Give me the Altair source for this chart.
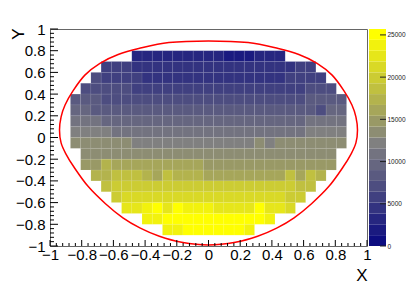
import altair as alt
import pandas as pd

# ---------------- data ----------------
N_XBINS = 31
X_MIN, X_MAX = -1.0, 1.0
Y_BIN = 0.1
ZMAX = 25700

row_y_low = [0.7, 0.6, 0.5, 0.4, 0.3, 0.2, 0.1, 0.0, -0.1, -0.2,
             -0.3, -0.4, -0.5, -0.6, -0.7, -0.8, -0.9]
row_first_bin = [8, 5, 4, 3, 2, 2, 2, 2, 2, 3, 3, 4, 5, 6, 7, 9, 11]
row_values = [
    [3310, 3150, 3420, 3260, 3090, 3380, 3200, 3290, 3140, 2410, 2280, 2530, 3350, 3180, 3060],
    [5870, 5690, 5950, 4420, 4610, 4380, 4550, 4700, 4330, 4490, 4620, 4410, 4560, 4350, 4680,
     4470, 4590, 4400, 4530, 5760, 5900],
    [7120, 5830, 5700, 5960, 5810, 4540, 4390, 4660, 4480, 4600, 4350, 4510, 4700, 4420, 4580,
     4460, 4630, 4370, 4550, 5740, 5920, 5860, 5690],
    [7150, 6980, 7200, 7030, 6940, 5820, 5950, 5710, 5880, 5760, 6010, 5690, 5840, 5930, 5780,
     5870, 5720, 5990, 5800, 5740, 5910, 5850, 7090, 7180, 7020],
    [8420, 8290, 8510, 7010, 7150, 6950, 7230, 7080, 6990, 7170, 7040, 7260, 6970, 7110, 7200,
     7060, 6930, 7140, 7090, 7220, 7000, 7130, 7050, 8380, 8460, 8310, 8550],
    [9700, 9580, 8300, 8450, 8380, 8520, 8270, 8410, 8360, 8490, 8330, 8560, 8400, 8290, 8470,
     8350, 8430, 8510, 8280, 8390, 8460, 8320, 8540, 8370, 7120, 9620, 9750],
    [10950, 10880, 11020, 9590, 9720, 9650, 9540, 9780, 9610, 9690, 9560, 9740, 9630, 9700, 9580,
     9660, 9750, 9600, 9680, 9550, 9710, 9640, 9770, 10900, 11010, 10860, 10970],
    [12250, 12130, 12310, 12180, 10960, 10850, 11030, 10920, 10990, 10870, 11060, 10910, 10840,
     11000, 10950, 10880, 11040, 10930, 10860, 11010, 10970, 10890, 11050, 12200, 12290, 12150, 12260],
    [13530, 13420, 13600, 13480, 13390, 13560, 12240, 12150, 12300, 12190, 12260, 12120, 12280,
     12210, 12170, 12330, 12230, 12140, 13510, 12270, 13450, 13580, 13410, 13530, 13620, 13470, 13550],
    [13520, 13610, 13440, 13580, 13700, 13490, 13630, 13560, 13420, 13680, 13510, 13600, 13470,
     13650, 13540, 13590, 13430, 13670, 13500, 13620, 13460, 13570, 13640, 13480, 13550],
    [14800, 14690, 17400, 16100, 15990, 16180, 16050, 16120, 15960, 16210, 16030, 16140, 14820,
     14710, 14900, 14760, 14850, 14680, 14930, 14790, 14740, 14880, 14700, 14830, 14770],
    [17400, 17290, 18700, 18580, 18650, 17380, 16090, 18610, 17320, 17450, 17260, 16040, 16150,
     15980, 16110, 16070, 16190, 16010, 16130, 18680, 16080, 18590, 17360],
    [18640, 19950, 19870, 20010, 19900, 19820, 20060, 19930, 19980, 19850, 20030, 19890, 19960,
     19800, 20080, 19920, 19990, 19860, 20020, 18700, 18570],
    [19940, 21250, 21130, 21300, 21180, 21220, 21090, 21340, 21160, 21270, 21110, 21230, 21190,
     21310, 21140, 21260, 21200, 19880, 20010],
    [22500, 22410, 23800, 25110, 22530, 25040, 23750, 23820, 23700, 22460, 22550, 22390, 22510,
     25080, 22440, 22520, 21230],
    [23790, 23710, 25120, 25300, 25010, 25450, 25180, 25260, 25070, 25390, 25150, 25220, 23760],
    [23810, 23740, 25350, 25620, 25480, 25690, 25410, 25280, 23770],
]

curve_x = [0.00, 0.25, 0.44, 0.57, 0.685, 0.78, 0.855, 0.905, 0.93, 0.94, 0.93, 0.90, 0.85,
           0.76, 0.65, 0.54, 0.43, 0.31, 0.17, 0.00, -0.17, -0.31, -0.43, -0.54, -0.65, -0.76,
           -0.85, -0.90, -0.93, -0.94, -0.93, -0.905, -0.855, -0.78, -0.685, -0.57, -0.44, -0.25]
curve_y = [0.89, 0.875, 0.82, 0.765, 0.684, 0.575, 0.43, 0.30, 0.19, 0.07, -0.05, -0.15, -0.27,
           -0.45, -0.61, -0.74, -0.835, -0.91, -0.965, -0.99, -0.965, -0.91, -0.835, -0.74, -0.61,
           -0.45, -0.27, -0.15, -0.05, 0.07, 0.19, 0.30, 0.43, 0.575, 0.684, 0.765, 0.82, 0.875]

axis_ticks = [-1, -0.8, -0.6, -0.4, -0.2, 0, 0.2, 0.4, 0.6, 0.8, 1]
cbar_ticks = [0, 5000, 10000, 15000, 20000, 25000]

# ---------------- build tables ----------------
bw = (X_MAX - X_MIN) / N_XBINS
cells = []
for ylo, first, vals in zip(row_y_low, row_first_bin, row_values):
    for j, v in enumerate(vals):
        i = first + j
        cells.append({"x0": X_MIN + i * bw, "x1": X_MIN + (i + 1) * bw,
                      "y0": ylo, "y1": ylo + Y_BIN, "value": v})
df_cells = pd.DataFrame(cells)
df_curve = pd.DataFrame({"cx": curve_x, "cy": curve_y, "i": range(len(curve_x))})

minor = [round(-1 + 0.04 * k, 2) for k in range(51)]
minor = [m for m in minor if min(abs(m - t) for t in axis_ticks) > 1e-6]
df_major = pd.DataFrame({"v": axis_ticks})
df_minor = pd.DataFrame({"v": minor})


# palette (ROOT kBlueYellow), 20 contour levels
def pal(f):
    stops = [(0.0, (0, 0, 128)), (0.5, (128, 128, 128)), (1.0, (255, 255, 0))]
    for (f0, c0), (f1, c1) in zip(stops[:-1], stops[1:]):
        if f <= f1 + 1e-9:
            t = (f - f0) / (f1 - f0)
            return "#%02x%02x%02x" % tuple(int(round(a + (b - a) * t)) for a, b in zip(c0, c1))
    return "#ffff00"


NLEV = 20
colors = [pal((k + 1) / NLEV) for k in range(NLEV)]
band = ZMAX / NLEV
df_cbar = pd.DataFrame({"lo": [k * band for k in range(NLEV)],
                        "hi": [(k + 1) * band for k in range(NLEV)],
                        "mid": [(k + 0.5) * band for k in range(NLEV)]})
df_cticks = pd.DataFrame({"v": cbar_ticks})

FONT = "Liberation Sans"
W, H = 317, 217
CW = 17

xscale = alt.Scale(domain=[-1, 1], nice=False, zero=False)
yscale = alt.Scale(domain=[-1, 1], nice=False, zero=False)
cscale = alt.Scale(type="quantize", domain=[0, ZMAX], range=colors, nice=False, zero=False)

xaxis = alt.Axis(values=axis_ticks, format="~g", ticks=False, tickSize=0, domain=False, grid=False,
                 labelFont=FONT, labelFontSize=15, labelColor="black", labelPadding=1,
                 labelFlush=False, labelOverlap=False, labelBound=False,
                 titleFont=FONT, titleFontSize=17, titleFontWeight="normal", titleColor="black",
                 titleX=W, titleY=34, titleAlign="right", titleBaseline="alphabetic")
yaxis = alt.Axis(values=axis_ticks, format="~g", ticks=False, tickSize=0, domain=False, grid=False,
                 labelFont=FONT, labelFontSize=15, labelColor="black", labelPadding=5,
                 labelFlush=False, labelOverlap=False, labelBound=False,
                 titleFont=FONT, titleFontSize=17, titleFontWeight="normal", titleColor="black",
                 titleAngle=270, titleX=-27, titleY=-1, titleAlign="right",
                 titleBaseline="alphabetic")


def X(f):
    return alt.X(f, type="quantitative", scale=xscale, axis=xaxis, title="X")


def Y(f):
    return alt.Y(f, type="quantitative", scale=yscale, axis=yaxis, title="Y")


rects = alt.Chart(df_cells).mark_rect(stroke="white", strokeWidth=0.5, strokeOpacity=0.12).encode(
    x=X("x0"), x2="x1", y=Y("y0"), y2="y1",
    color=alt.Color("value:Q", scale=cscale, legend=None),
)
curve = alt.Chart(df_curve).mark_line(color="#ff0000", strokeWidth=1.5,
                                      interpolate="cardinal-closed").encode(
    x=X("cx"), y=Y("cy"), order=alt.Order("i:Q"))

xmaj = alt.Chart(df_major).mark_rule(color="black", strokeWidth=1).encode(
    x=X("v"), y=alt.value(H), y2=alt.value(H - 6))
xmin = alt.Chart(df_minor).mark_rule(color="black", strokeWidth=1).encode(
    x=X("v"), y=alt.value(H), y2=alt.value(H - 3))
ymaj = alt.Chart(df_major).mark_rule(color="black", strokeWidth=1).encode(
    y=Y("v"), x=alt.value(0), x2=alt.value(8))
ymin = alt.Chart(df_minor).mark_rule(color="black", strokeWidth=1).encode(
    y=Y("v"), x=alt.value(0), x2=alt.value(4))

main = alt.layer(rects, curve, xmaj, xmin, ymaj, ymin).properties(
    width=W, height=H, view=alt.ViewBackground(stroke="#666666", strokeWidth=1))

cyscale = alt.Scale(domain=[0, ZMAX], nice=False, zero=False)
cyaxis = alt.Axis(values=cbar_ticks, format="d", orient="right", ticks=False, tickSize=0,
                  domain=False, grid=False, labelFont=FONT, labelFontSize=6.5,
                  labelColor="#222222", labelPadding=1, labelFlush=False, labelOverlap=False)

cb_rect = alt.Chart(df_cbar).mark_rect().encode(
    y=alt.Y("lo:Q", scale=cyscale, axis=cyaxis, title=None), y2="hi",
    x=alt.value(0), x2=alt.value(CW),
    color=alt.Color("mid:Q", scale=cscale, legend=None))
cb_tick = alt.Chart(df_cticks).mark_rule(color="#222222", strokeWidth=1).encode(
    y=alt.Y("v:Q", scale=cyscale, axis=cyaxis, title=None),
    x=alt.value(CW - 6), x2=alt.value(CW))
cbar = alt.layer(cb_rect, cb_tick).properties(
    width=CW, height=H, view=alt.ViewBackground(stroke="transparent"))

chart = alt.hconcat(main, cbar, spacing=2, bounds="flush").properties(
    padding={"left": 0, "top": 13, "right": 0, "bottom": 0}
).configure(font=FONT).resolve_scale(color="shared")

chart.save("out.html", embed_options={"renderer": "svg", "actions": False})
